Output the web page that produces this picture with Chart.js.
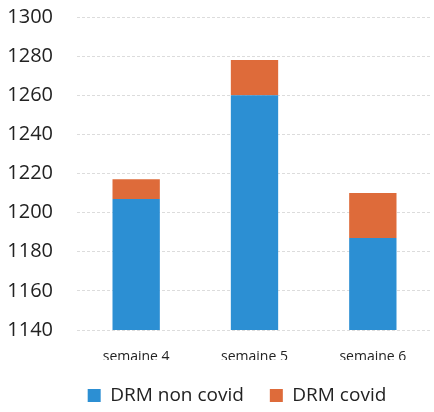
<!DOCTYPE html>
<html>
<head>
<meta charset="utf-8">
<script src="https://cdn.jsdelivr.net/npm/chart.js@4/dist/chart.umd.min.js"></script>
<style>
  html, body { margin: 0; padding: 0; background: #fff; }
  #wrap { width: 434px; height: 412px; }
</style>
</head>
<body>
<div id="wrap"><canvas id="myChart_bar"></canvas></div>
<script>
  // Data
  var semaines = ['semaine 4', 'semaine 5', 'semaine 6'];
  var drmNonCovid = [1207, 1260, 1187];
  var drmCovid = [10, 18, 23];
  var yTicks = [1140, 1160, 1180, 1200, 1220, 1240, 1260, 1280, 1300];

  // nudge the legend a bit to the right, like in the original
  var shiftLegend = {
    id: 'shiftLegend',
    afterLayout: function (chart) {
      chart.legend.left += 21;
      chart.legend.right += 21;
    }
  };

  var ctx = document.getElementById('myChart_bar').getContext('2d');
  var myChart = new Chart(ctx, {
    type: 'bar',
    data: {
      labels: semaines,
      datasets: [{
        label: 'DRM non covid',
        data: drmNonCovid,
        backgroundColor: '#2c8fd3',
        borderWidth: 0
      }, {
        label: 'DRM covid',
        data: drmCovid,
        backgroundColor: '#de6b3a',
        borderWidth: 0
      }]
    },
    plugins: [shiftLegend],
    options: {
      responsive: true,
      maintainAspectRatio: false,
      animation: false,
      layout: { padding: { top: 17, right: 2, bottom: -3, left: 0 } },
      datasets: { bar: { categoryPercentage: 1, barPercentage: 0.4 } },
      plugins: {
        tooltip: { enabled: false },
        legend: {
          position: 'bottom',
          labels: {
            color: '#222',
            font: { family: 'Open Sans', size: 19 },
            boxWidth: 13,
            boxHeight: 13,
            padding: 26
          }
        }
      },
      scales: {
        x: {
          stacked: true,
          grid: { display: false },
          border: { display: false },
          afterFit: function (scale) { scale.height = 30; },
          ticks: { color: '#222', font: { family: 'Open Sans', size: 14 }, padding: 11 }
        },
        y: {
          stacked: true,
          min: yTicks[0],
          max: yTicks[yTicks.length - 1],
          afterBuildTicks: function (scale) {
            scale.ticks = yTicks.map(function (v) { return { value: v }; });
          },
          afterFit: function (scale) {
            scale.width = 77;
            scale.paddingTop = 0;
            scale.paddingBottom = 0;
          },
          grid: { color: '#dcdcdc', drawTicks: false },
          border: { display: false, dash: [3, 2] },
          ticks: {
            color: '#222',
            font: { family: 'Open Sans', size: 20 },
            padding: 24,
            callback: function (v) { return String(v); }
          }
        }
      }
    }
  });
</script>
</body>
</html>
